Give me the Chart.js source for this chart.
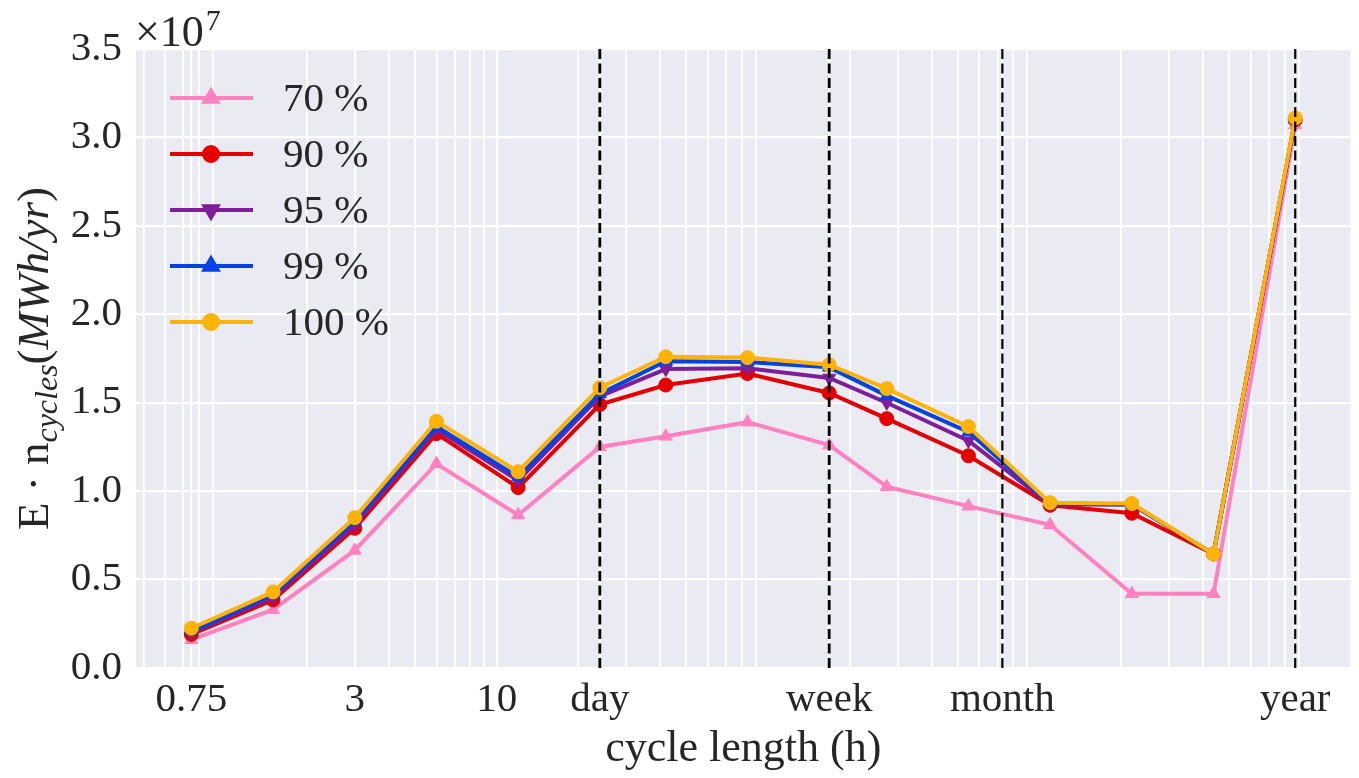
<!DOCTYPE html>
<html>
<head>
<meta charset="utf-8">
<script src="https://cdn.jsdelivr.net/npm/chart.js@4.4.1/dist/chart.umd.min.js"></script>
<style>
  html, body { margin: 0; background: #fff; }
  #wrap { width: 1359px; height: 778px; }
</style>
</head>
<body>
<div id="wrap"><canvas id="myChart"></canvas></div>
<script>
// cycle lengths in hours (log axis)
const cycleHours = [0.75, 1.5, 3, 6, 12, 24, 42, 84, 168, 273.75, 547.5, 1095, 2190, 4380, 8760];

// E * n_cycles, in units of 1e7 MWh/yr
const eff70  = [0.16, 0.33, 0.665, 1.155, 0.865, 1.25, 1.31, 1.39, 1.26, 1.025, 0.915, 0.81, 0.42, 0.42, 3.07];
const eff90  = [0.19, 0.385, 0.79, 1.325, 1.02, 1.49, 1.60, 1.665, 1.555, 1.41, 1.20, 0.92, 0.875, 0.645, 3.10];
const eff95  = [0.20, 0.40, 0.81, 1.35, 1.06, 1.535, 1.69, 1.695, 1.64, 1.50, 1.285, 0.925, 0.925, 0.645, 3.10];
const eff99  = [0.205, 0.415, 0.83, 1.365, 1.08, 1.55, 1.735, 1.73, 1.70, 1.54, 1.335, 0.93, 0.925, 0.645, 3.10];
const eff100 = [0.225, 0.43, 0.85, 1.395, 1.11, 1.585, 1.76, 1.755, 1.715, 1.58, 1.365, 0.935, 0.93, 0.645, 3.11];
const seriesLabels = ['70 %', '90 %', '95 %', '99 %', '100 %'];
const SCALE = 1e7;

// labelled x ticks and the dashed reference lines
const xTickValues = [0.75, 3, 10, 24, 168, 730, 8760];
const xTickLabels = ['0.75', '3', '10', 'day', 'week', 'month', 'year'];
const refLines = [24, 168, 730, 8760];

const X_MIN = 0.469, X_MAX = 14000;
const FONT = 'Liberation Serif';
const TEXT = '#262626';

// minor log grid: 2..9 x 10^n (decade lines themselves are not drawn)
const minorGrid = [];
for (let n = -1; n <= 3; n++) {
    for (let k = 2; k <= 9; k++) {
        const v = +(k * Math.pow(10, n)).toPrecision(6);
        if (v > X_MIN && v < X_MAX && !xTickValues.some(t => Math.abs(t - v) < 1e-9)) minorGrid.push(v);
    }
}
const gridValues = xTickValues.concat(minorGrid).sort((a, b) => a - b);

const styles = [
    { color: '#ff81c0', pointStyle: 'triangle', rotation: 0, radius: 7.5 },
    { color: '#e50000', pointStyle: 'circle', rotation: 0, radius: 7 },
    { color: '#7e1e9c', pointStyle: 'triangle', rotation: 180, radius: 7.5 },
    { color: '#0343df', pointStyle: 'triangle', rotation: 0, radius: 7.5 },
    { color: '#feb308', pointStyle: 'circle', rotation: 0, radius: 7 }
];

const allSeries = [eff70, eff90, eff95, eff99, eff100];
const datasets = allSeries.map((vals, i) => ({
    label: seriesLabels[i],
    data: vals.map((v, j) => ({ x: cycleHours[j], y: v * SCALE })),
    borderColor: styles[i].color,
    backgroundColor: styles[i].color,
    pointBackgroundColor: styles[i].color,
    pointBorderColor: styles[i].color,
    pointBorderWidth: 1,
    pointStyle: styles[i].pointStyle,
    pointRotation: styles[i].rotation,
    pointRadius: styles[i].radius,
    borderWidth: 4,
    tension: 0,
    order: allSeries.length - i  // 100 % drawn on top
}));

// plot background
const bgPlugin = {
    id: 'plotBg',
    beforeDraw(chart) {
        const { ctx, chartArea: a } = chart;
        ctx.save();
        ctx.fillStyle = '#eaeaf2';
        ctx.fillRect(a.left, a.top, a.right - a.left, a.bottom - a.top);
        ctx.restore();
    }
};

// dashed day / week / month / year markers
const refLinePlugin = {
    id: 'refLines',
    afterDatasetsDraw(chart) {
        const { ctx, chartArea: a, scales } = chart;
        ctx.save();
        ctx.strokeStyle = '#000';
        ctx.setLineDash([10, 4.5]);
        refLines.forEach((v, i) => {
            const x = scales.x.getPixelForValue(v);
            ctx.lineWidth = i < 2 ? 2.8 : 2.2;
            ctx.beginPath();
            ctx.moveTo(x, a.top);
            ctx.lineTo(x, a.bottom);
            ctx.stroke();
        });
        ctx.restore();
    }
};

// legend with line + marker samples, offset exponent and y axis title
const textPlugin = {
    id: 'texts',
    afterDraw(chart) {
        const { ctx, chartArea: a } = chart;
        ctx.save();
        ctx.fillStyle = TEXT;

        // legend
        datasets.forEach((ds, i) => {
            const y = a.top + 49 + i * 56;
            const st = styles[i];
            ctx.strokeStyle = st.color;
            ctx.lineWidth = 4;
            ctx.setLineDash([]);
            ctx.beginPath();
            ctx.moveTo(a.left + 34, y);
            ctx.lineTo(a.left + 117, y);
            ctx.stroke();
            ctx.fillStyle = st.color;
            Chart.helpers.drawPoint(ctx, { pointStyle: st.pointStyle, rotation: st.rotation, radius: st.radius, borderWidth: 1 }, a.left + 75, y);
            ctx.fillStyle = TEXT;
            ctx.font = '41px "' + FONT + '"';
            ctx.textBaseline = 'middle';
            ctx.textAlign = 'left';
            ctx.fillText(ds.label, a.left + 147, y + 2);
        });

        // x10^7 above the y axis
        ctx.textBaseline = 'alphabetic';
        ctx.font = '44px "' + FONT + '"';
        ctx.fillText('\u00d710', a.left - 1, 46);
        const w = ctx.measureText('\u00d710').width;
        ctx.font = '30px "' + FONT + '"';
        ctx.fillText('7', a.left + w + 1, 30);

        // rotated y title with subscript
        const parts = [
            { t: 'E \u00b7 n', f: '45px "' + FONT + '"', dy: 0 },
            { t: 'cycles', f: 'italic 32px "' + FONT + '"', dy: 9 },
            { t: '(', f: '45px "' + FONT + '"', dy: 0 },
            { t: 'MWh/yr', f: 'italic 45px "' + FONT + '"', dy: 0 },
            { t: ')', f: '45px "' + FONT + '"', dy: 0 }
        ];
        let total = 0;
        parts.forEach(p => { ctx.font = p.f; p.w = ctx.measureText(p.t).width; total += p.w; });
        ctx.translate(48, (a.top + a.bottom) / 2);
        ctx.rotate(-Math.PI / 2);
        let x = -total / 2;
        parts.forEach(p => {
            ctx.font = p.f;
            ctx.fillText(p.t, x, p.dy);
            x += p.w;
        });
        ctx.restore();
    }
};

const config = {
    type: 'line',
    data: { datasets: datasets },
    options: {
        animation: false,
        responsive: true,
        maintainAspectRatio: false,
        devicePixelRatio: 1,
        layout: { padding: { left: 0, top: 49, right: 1, bottom: 0 } },
        scales: {
            x: {
                type: 'logarithmic',
                min: X_MIN,
                max: X_MAX,
                border: { display: false },
                grid: {
                    color: '#ffffff',
                    lineWidth: ctx => xTickValues.includes(ctx.tick && ctx.tick.value) ? 2.2 : 1.8,
                    drawTicks: false
                },
                ticks: {
                    autoSkip: false,
                    maxRotation: 0,
                    padding: 8,
                    color: TEXT,
                    font: { family: FONT, size: 41 },
                    callback: value => {
                        const i = xTickValues.indexOf(value);
                        return i >= 0 ? xTickLabels[i] : '';
                    }
                },
                afterBuildTicks: scale => {
                    scale.ticks = gridValues.map(v => ({ value: v }));
                },
                afterFit: scale => { scale.height = 110; },
                title: {
                    display: true,
                    text: 'cycle length (h)',
                    color: TEXT,
                    font: { family: FONT, size: 44 },
                    padding: { top: 0, bottom: 2 }
                }
            },
            y: {
                min: 0,
                max: 3.5e7,
                border: { display: false },
                grid: { color: '#ffffff', lineWidth: 2.2, drawTicks: false },
                ticks: {
                    stepSize: 0.5e7,
                    padding: 14,
                    color: TEXT,
                    font: { family: FONT, size: 41 },
                    callback: value => (value / SCALE).toFixed(1)
                },
                afterFit: scale => { scale.width = 136; }
            }
        },
        plugins: {
            legend: { display: false },
            tooltip: { enabled: false }
        }
    },
    plugins: [bgPlugin, refLinePlugin, textPlugin]
};

new Chart(document.getElementById('myChart'), config);
</script>
</body>
</html>
